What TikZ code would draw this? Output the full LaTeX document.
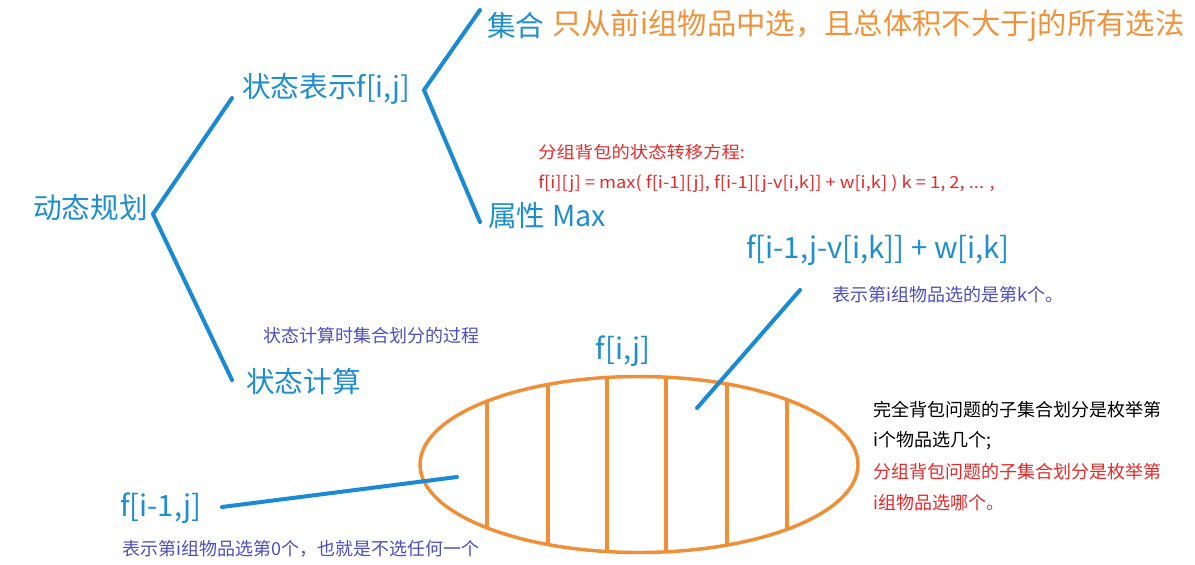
\documentclass[tikz,border=0pt]{standalone}
\usepackage{fontspec}
\usetikzlibrary{shapes.geometric}
\setmainfont{Noto Sans CJK SC}
\newfontfamily\cjk{Noto Sans CJK SC}
\newfontfamily\cjkwide[FakeStretch=1.1]{Noto Sans CJK SC}
\definecolor{tblue}{HTML}{1F8ECF}
\definecolor{lblue}{HTML}{1A8AD4}
\definecolor{torange}{HTML}{F0923A}
\definecolor{eorange}{HTML}{F08F38}
\definecolor{tpurple}{HTML}{4E4EBE}
\definecolor{tred}{HTML}{E42A2C}
\tikzset{
  big/.style={font=\cjk\fontsize{21.5pt}{24pt}\selectfont, text=tblue, inner sep=0pt, anchor=west},
  mid/.style={font=\cjk\fontsize{22pt}{24pt}\selectfont, text=tblue, inner sep=0pt, anchor=west},
  note/.style={font=\cjk\fontsize{13.5pt}{16pt}\selectfont, text=tpurple, inner sep=0pt, anchor=west},
  rednote/.style={font=\cjkwide\fontsize{12.5pt}{15pt}\selectfont, text=tred, inner sep=0pt, anchor=west},
  side/.style={font=\cjk\fontsize{13.5pt}{16pt}\selectfont, inner sep=0pt, anchor=west},
  branch/.style={draw=lblue, line width=3pt, line cap=round},
  setline/.style={draw=eorange, line width=2.6pt}
}
\begin{document}
\begin{tikzpicture}[x=0.75pt,y=-0.75pt]
\useasboundingbox (0,0) rectangle (1195,564);
% texts
\node[big] (dp) at (33,208) {动态规划};
\node[big] (zt) at (242,89) {状态表示f[i,j]};
\node[big] (jh) at (487,26) {集合};
\node[big, text=torange, font=\cjk\fontsize{22pt}{24pt}\selectfont] (jhdesc) at (552,26) {只从前i组物品中选，且总体积不大于j的所有选法};
\node[big] (sx) at (488,216) {属性 Max};
\node[rednote] (eq1) at (538,152) {分组背包的状态转移方程:};
\node[rednote] (eq2) at (538,184) {f[i][j] = max( f[i-1][j], f[i-1][j-v[i,k]] + w[i,k] ) k = 1, 2, ... ,};
\node[mid] (fk) at (746,250) {f[i-1,j-v[i,k]] + w[i,k]};
\node[note] (fknote) at (832,295) {表示第i组物品选的是第k个。};
\node[note] (calcnote) at (263,336) {状态计算时集合划分的过程};
\node[big] (calc) at (246,382) {状态计算};
\node[mid, anchor=center] (fij) at (623,351) {f[i,j]};
\node[mid] (f0) at (120,508) {f[i-1,j]};
\node[note] (f0note) at (122,549) {表示第i组物品选第0个，也就是不选任何一个};
\node[side] (s1) at (873,410) {完全背包问题的子集合划分是枚举第};
\node[side] (s2) at (873,441) {i个物品选几个;};
\node[side, text=tred] (s3) at (873,472) {分组背包问题的子集合划分是枚举第};
\node[side, text=tred] (s4) at (873,503) {i组物品选哪个。};
% branch coordinates
\coordinate (dpR) at (153,214);
\coordinate (ztL) at (232,98);
\coordinate (calcL) at (232,380);
\coordinate (ztR) at (424,90);
\coordinate (jhL) at (480,10);
\coordinate (sxL) at (480,222);
\draw[branch] (ztL) -- (dpR) -- (calcL);
\draw[branch] (jhL) -- (ztR) -- (sxL);
% ellipse
\node[draw=eorange, line width=2.6pt, ellipse, minimum width=328.5pt, minimum height=132pt, inner sep=0pt] (set) at (639,464.5) {};
\begin{scope}
\clip (639,464.5) ellipse [x radius=219, y radius=88];
\foreach \xx in {487,548,607,666,727,787}
  \draw[setline] (\xx,370) -- (\xx,560);
\end{scope}
% pointers
\coordinate (fkP) at (800,290);
\coordinate (fkIn) at (697,408);
\coordinate (f0R) at (222,507);
\coordinate (f0In) at (457,477);
\draw[branch] (fkP) -- (fkIn);
\draw[branch] (f0R) -- (f0In);
\end{tikzpicture}
\end{document}
